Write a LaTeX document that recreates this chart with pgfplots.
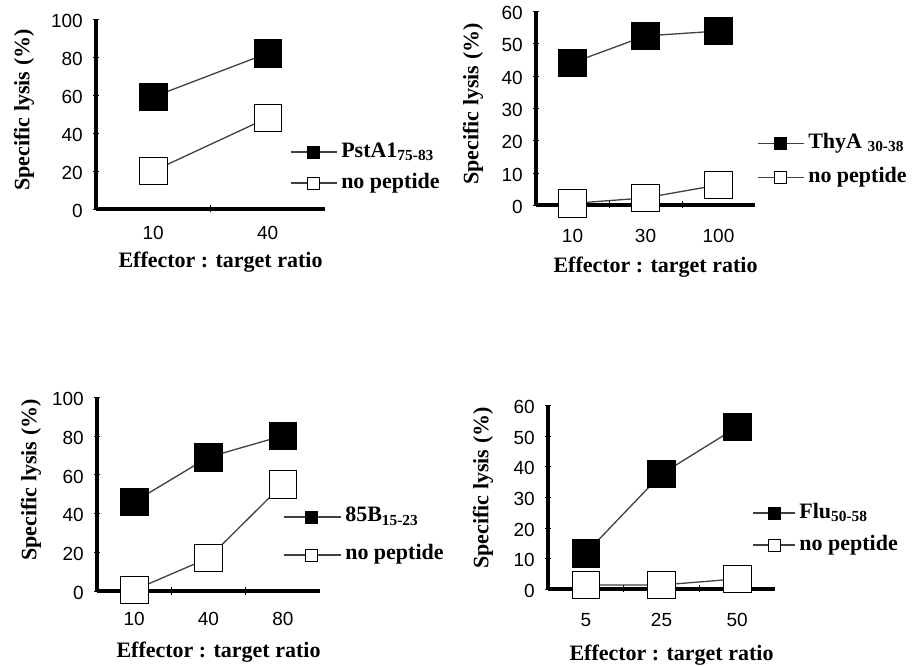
\documentclass[border=0pt]{standalone}
\usepackage{fontspec}
\setmainfont{Liberation Serif}
\newfontfamily\tickfont{Liberation Sans}
\usepackage{pgfplots}
\pgfplotsset{compat=1.18}

\pgfplotsset{
  panel/.style={
    scale only axis, anchor=south west,
    axis x line=bottom, axis y line=left,
    axis line style={line width=3.2pt,-},
    every outer y axis line/.append style={line width=3.2pt,-},
    every inner y axis line/.append style={line width=3.2pt,-},
    clip=false, xmin=-0.5, ymin=0,
    tick align=center,
    major tick length=6pt, minor tick length=7pt,
    every major x tick/.append style={draw=none},
    every minor x tick/.append style={line width=1pt,black},
    ytick style={black},
    /pgf/number format/assume math mode=true,
    ticklabel style={font=\tickfont\fontsize{19}{19}\selectfont},
    xticklabel style={anchor=center, yshift=-25pt},
    yticklabel style={anchor=east, inner sep=0pt, xshift=-10pt, yshift=-2pt},
    xlabel={Effector : target ratio},
    ylabel={Specific lysis (\%)},
    legend style={draw=none, fill=none, inner sep=0pt, outer sep=0pt,
      column sep=4pt, anchor=west,
      font=\bfseries\fontsize{22}{24}\selectfont,
      nodes={inner sep=0pt, text height=15pt, text depth=5pt}},
    legend cell align=left,
    legend image post style={mark size=6pt},
    legend image code/.code={
      \draw[mark repeat=2,mark phase=2,##1] plot coordinates {(0pt,0pt) (23pt,0pt) (46pt,0pt)};
    },
  },
  xlab/.style={every axis x label/.style={at={(axis description cs:0.5,0)}, anchor=center,
    xshift=10pt, yshift=-#1, font=\bfseries\fontsize{22}{24}\selectfont}},
  ylab/.style 2 args={every axis y label/.style={at={(axis description cs:0,0.5)}, anchor=center,
    xshift=-#1, yshift=#2, rotate=90, font=\bfseries\fontsize{22}{24}\selectfont}},
  blk/.style={color=black!75, line width=1.3pt, mark=square*,
    mark options={solid, fill=black, draw=black, line width=0.8pt}, mark size=13.8pt},
  wht/.style={color=black!75, line width=1.3pt, mark=square*,
    mark options={solid, fill=white, draw=black, line width=0.8pt}, mark size=13.8pt},
}

\begin{document}
\begin{tikzpicture}[x=1pt,y=1pt]
\useasboundingbox (0,0) rectangle (912,666);

% top left
\begin{axis}[panel, at={(96pt,457pt)}, width=229pt, height=190pt,
  xmax=1.5, ymax=100, ytick={0,20,...,100},
  xtick={0,1}, xticklabels={10,40}, minor xtick={0.5},
  xticklabel style={yshift=4pt},
  xlab=53pt, ylab={72pt}{4pt},
  legend style={at={(0.847,0.218)}, row sep=11pt}]
\addplot[blk] coordinates {(0,59) (1,82)};
\addlegendentry{PstA1\textsubscript{75-83}}
\addplot[wht] coordinates {(0,20) (1,48)};
\addlegendentry{no peptide}
\end{axis}

% top right
\begin{axis}[panel, at={(536pt,461pt)}, width=219pt, height=194pt,
  xmax=2.5, ymax=60, ytick={0,10,...,60},
  xtick={0,1,2}, xticklabels={10,30,100}, minor xtick={0.5,1.5},
  xticklabel style={yshift=-3pt},
  xlab=62pt, ylab={63pt}{4pt},
  legend style={at={(1.009,0.228)}, row sep=14pt}]
\addplot[blk] coordinates {(0,44) (1,52.3) (2,53.8)};
\addlegendentry{ThyA \textsubscript{30-38}}
\addplot[wht] coordinates {(0,0.5) (1,2.2) (2,6.2)};
\addlegendentry{no peptide}
\end{axis}

% bottom left
\begin{axis}[panel, at={(97pt,75pt)}, width=223pt, height=194pt,
  xmax=2.5, ymax=100, ytick={0,20,...,100},
  xtick={0,1,2}, xticklabels={10,40,80}, minor xtick={0.5,1.5},
  xlab=61pt, ylab={66pt}{14pt},
  legend image code/.code={
    \draw[mark repeat=2,mark phase=2,#1] plot coordinates {(0pt,0pt) (28pt,0pt) (57pt,0pt)};
  },
  legend style={at={(0.834,0.284)}, row sep=18pt}]
\addplot[blk] coordinates {(0,46) (1,69) (2,80)};
\addlegendentry{85B\textsubscript{15-23}}
\addplot[wht] coordinates {(0,0.5) (1,17) (2,55)};
\addlegendentry{no peptide}
\end{axis}

% bottom right
\begin{axis}[panel, at={(548pt,77pt)}, width=227pt, height=184pt,
  xmax=2.5, ymax=60, ytick={0,10,...,60},
  xtick={0,1,2}, xticklabels={5,25,50}, minor xtick={0.5,1.5},
  xticklabel style={yshift=-3pt},
  xlab=66pt, ylab={65pt}{9pt},
  legend image code/.code={
    \draw[mark repeat=2,mark phase=2,#1] plot coordinates {(0pt,0pt) (22pt,0pt) (42pt,0pt)};
  },
  legend style={at={(0.899,0.326)}, row sep=12pt}]
\addplot[blk] coordinates {(0,11.7) (1,37.5) (2,52.8)};
\addlegendentry{Flu\textsubscript{50-58}}
\addplot[wht] coordinates {(0,1.3) (1,1.3) (2,3.3)};
\addlegendentry{no peptide}
\end{axis}
\end{tikzpicture}
\end{document}
